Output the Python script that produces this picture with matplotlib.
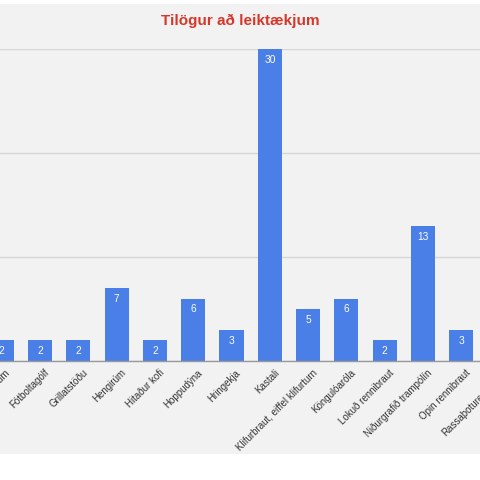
import matplotlib.pyplot as plt
from matplotlib.patches import Rectangle
from matplotlib.transforms import ScaledTranslation

plt.rcParams["font.family"] = ["Liberation Sans", "DejaVu Sans"]

# tilögur per leiktæki (first and last categories are cut off in the source)
categories = [
    "Aparólum", "Fótboltagólf", "Grillatstöðu", "Hengirúm", "Hitaður kofi",
    "Hoppudýna", "Hringekja", "Kastali", "Klifurbraut, eiffel klifurturn",
    "Köngulóaróla", "Lokuð rennibraut", "Niðurgrafið trampólín",
    "Opin rennibraut", "Rassaþoturennibraut",
]
counts = [2, 2, 2, 7, 2, 6, 3, 30, 5, 6, 2, 13, 3, 2]
yticks = [0, 10, 20, 30]

BG = "#f2f2f2"
BAR = "#4a7fe8"

fig = plt.figure(figsize=(4.8, 4.81), dpi=100)
fig.patch.set_facecolor("white")
# grey chart card, kept behind the axes
fig.patches.append(Rectangle((0, 26 / 481), 1, 450 / 481, transform=fig.transFigure,
                             facecolor=BG, edgecolor="none", zorder=-10))

# the chart is cropped on both sides, so the axes runs past the right edge
ax = fig.add_axes([0, 119 / 481, 1.2, 312 / 481])
ax.set_facecolor(BG)

x = list(range(len(categories)))
bars = ax.bar(x, counts, width=0.63, color=BAR, zorder=3)
for rect, v in zip(bars, counts):
    ax.annotate(str(v), (rect.get_x() + rect.get_width() / 2, v),
                xytext=(0, -7), textcoords="offset points", ha="center", va="center",
                color="white", fontsize=7.3, zorder=4)

ax.set_yticks(yticks)
ax.set_yticklabels([])
ax.tick_params(axis="y", length=0)
ax.grid(axis="y", color="#d6d6d6", linewidth=1.0, zorder=1)
for s in ["top", "right", "left"]:
    ax.spines[s].set_visible(False)
ax.spines["bottom"].set_color("#9a9a9a")
ax.spines["bottom"].set_linewidth(1.0)
ax.spines["bottom"].set_zorder(5)

ax.set_xticks(x)
ax.set_xticklabels(categories, rotation=45, ha="right", rotation_mode="anchor",
                   fontsize=7, color="#333333")
ax.tick_params(axis="x", length=0, pad=4)
shift = ScaledTranslation(4 / 100, 0, fig.dpi_scale_trans)
for lab in ax.get_xticklabels():
    lab.set_transform(lab.get_transform() + shift)

# limits after the ticks, since set_xticks widens the view
ax.set_xlim(-0.044, -0.044 + 12.532 * 1.2)
ax.set_ylim(0, 30)

fig.text(0.5, 1 - 21 / 481, "Tilögur að leiktækjum", ha="center", va="center",
         color="#d6372a", fontsize=11, fontweight="bold")

fig.savefig("out.png", dpi=100, facecolor=fig.get_facecolor())
